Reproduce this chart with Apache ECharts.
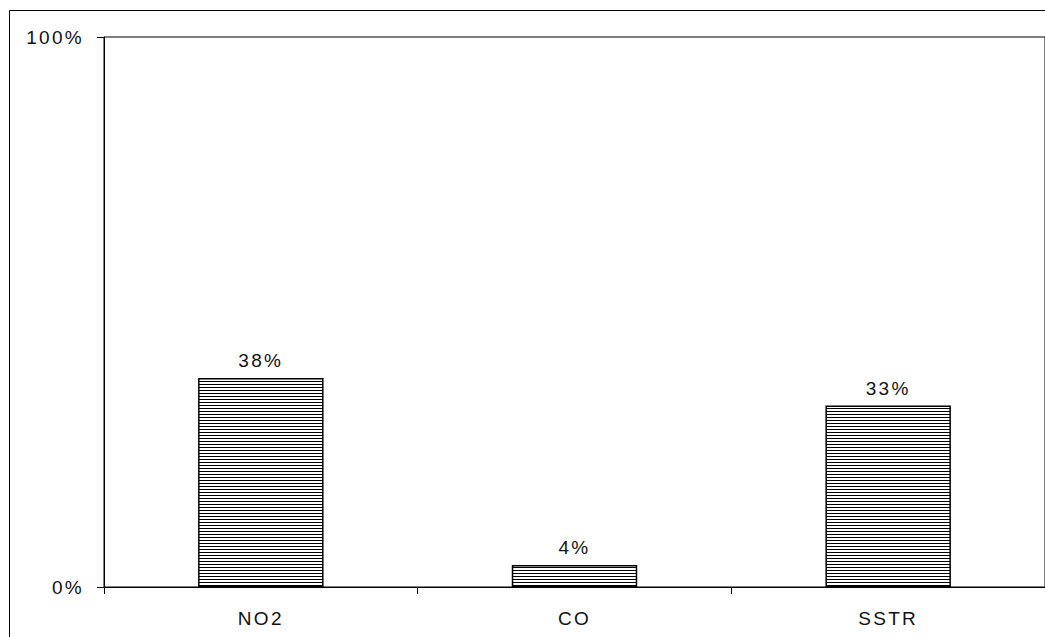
<!DOCTYPE html>
<html>
<head>
<meta charset="utf-8">
<script src="https://cdn.jsdelivr.net/npm/echarts@6/dist/echarts.min.js"></script>
<style>
    html, body { margin: 0; padding: 0; background: #fff; }
    #chart { width: 1045px; height: 637px; }
    /* the original labels are set with wide tracking */
    #chart text { letter-spacing: 2.3px; }
</style>
</head>
<body>
<div id="chart"></div>
<script>
    var categories = ['NO2', 'CO', 'SSTR'];
    var shares = [38, 4, 33];
    var yTicks = [0, 100];

    // horizontal line hatching like the original fill
    var hatch = document.createElement('canvas');
    hatch.width = 4;
    hatch.height = 3;
    var ctx = hatch.getContext('2d');
    ctx.fillStyle = '#ffffff';
    ctx.fillRect(0, 0, 4, 3);
    ctx.fillStyle = '#000000';
    ctx.fillRect(0, 0, 4, 1);

    var font = 'Liberation Sans, Arial, sans-serif';
    var myChart = echarts.init(document.getElementById('chart'), null, { renderer: 'svg' });
    var option = {
        animation: false,
        backgroundColor: '#fff',
        textStyle: { fontFamily: font },
        graphic: [{
            type: 'rect',
            shape: { x: 9.5, y: 10.5, width: 1100, height: 700 },
            style: { fill: 'none', stroke: '#000', lineWidth: 1 },
            silent: true
        }],
        grid: {
            left: 104,
            top: 37,
            width: 943,
            height: 550,
            show: true,
            borderColor: '#000',
            borderWidth: 1,
            backgroundColor: 'transparent'
        },
        xAxis: {
            type: 'category',
            data: categories,
            axisLine: { lineStyle: { color: '#000', width: 1 } },
            axisTick: { show: true, length: 7, inside: false, lineStyle: { color: '#000' } },
            axisLabel: { color: '#111', fontSize: 19, margin: 22, fontFamily: font }
        },
        yAxis: {
            type: 'value',
            min: yTicks[0],
            max: yTicks[1],
            interval: 100,
            axisLine: { show: true, lineStyle: { color: '#000', width: 1 } },
            axisTick: { show: true, length: 7, lineStyle: { color: '#000' } },
            axisLabel: {
                color: '#111', fontSize: 19, margin: 20, fontFamily: font,
                formatter: '{value}%'
            },
            splitLine: { show: false }
        },
        series: [{
            type: 'bar',
            data: shares,
            barWidth: '40%',
            itemStyle: {
                color: { image: hatch.toDataURL(), repeat: 'repeat' },
                borderColor: '#000',
                borderWidth: 1.5
            },
            label: {
                show: true,
                position: 'top',
                distance: 8,
                color: '#111',
                fontSize: 19,
                fontFamily: font,
                formatter: '{c}%'
            }
        }]
    };
    myChart.setOption(option);
</script>
</body>
</html>
